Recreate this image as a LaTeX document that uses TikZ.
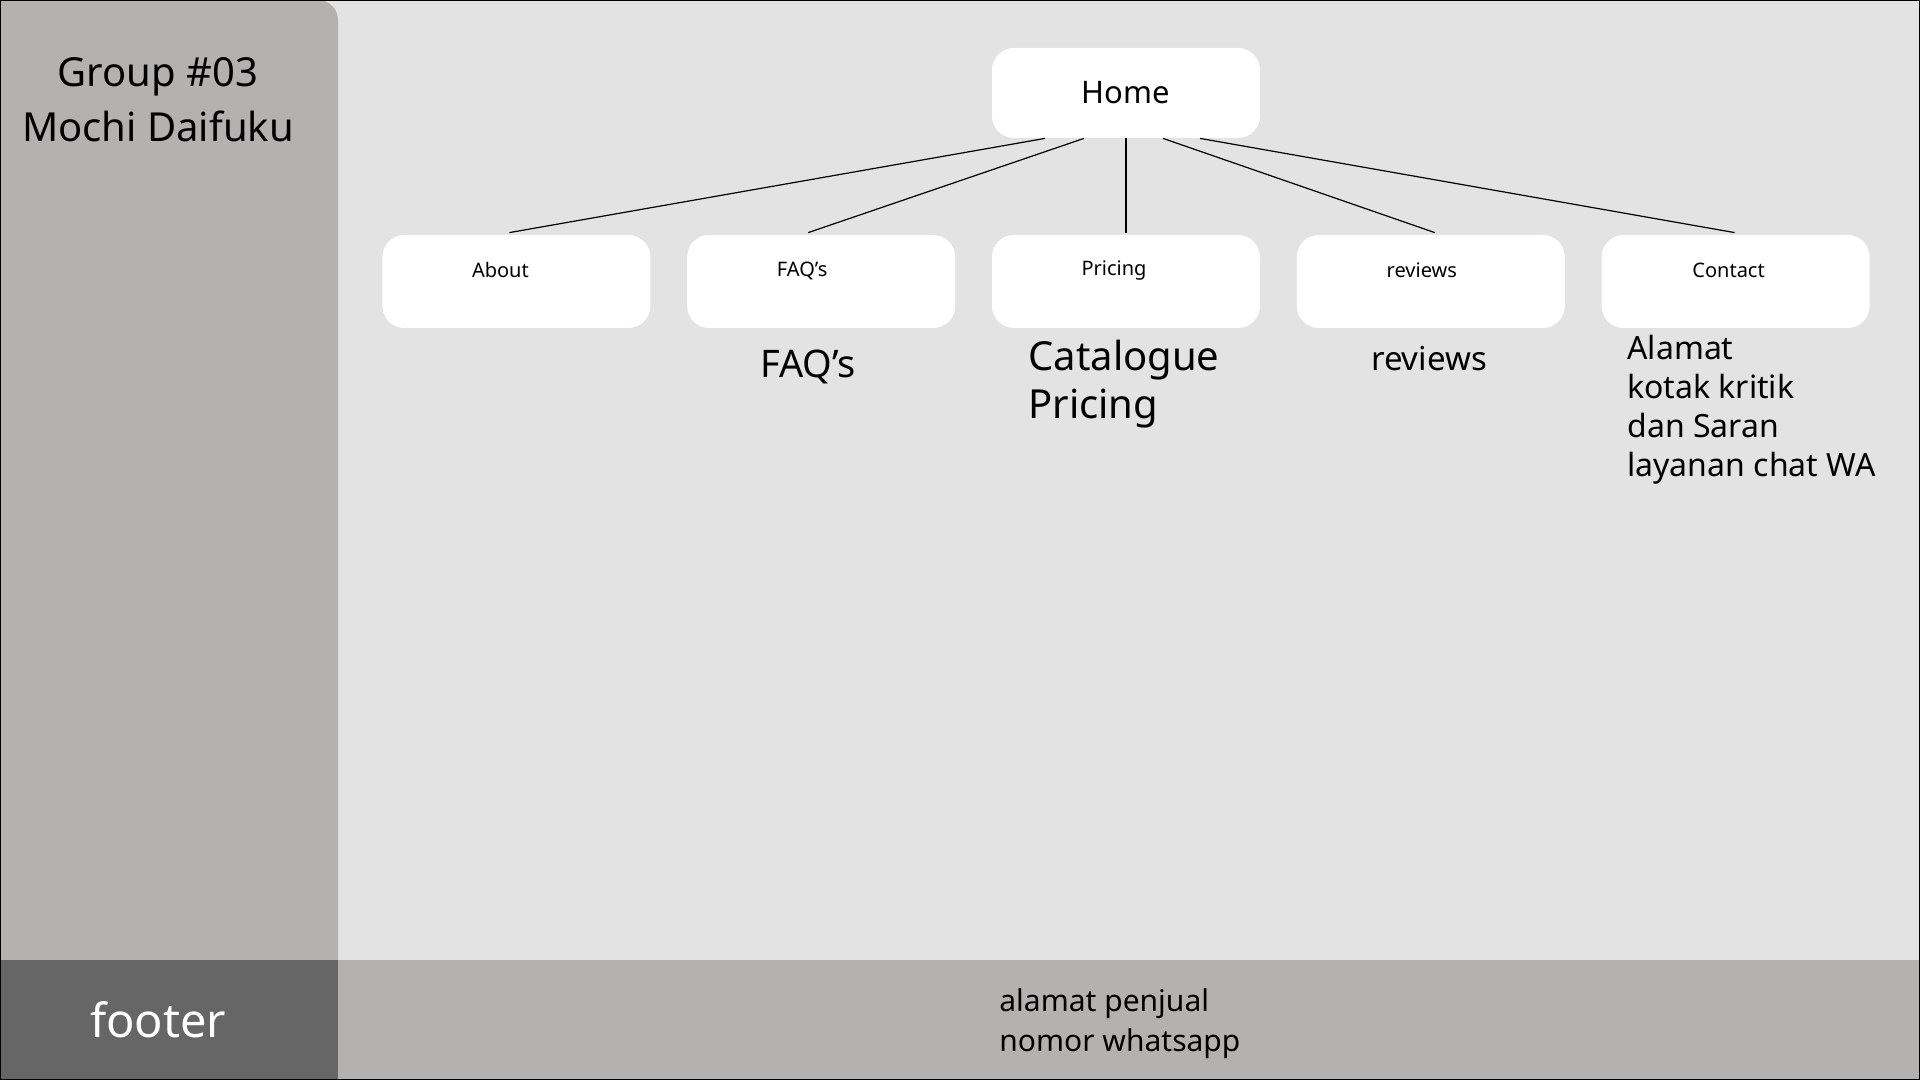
\documentclass[tikz,border=0pt]{standalone}
\usepackage{fontspec}
\setmainfont{Noto Sans}
\usetikzlibrary{calc,positioning}
\definecolor{sidegray}{HTML}{B3B2B0}
\definecolor{pagegray}{HTML}{E3E3E3}
\definecolor{footdark}{HTML}{666666}
\tikzset{link/.style={draw=black, line width=0.6pt},
  tab/.style={fill=white, rounded corners=11pt, minimum width=134pt, minimum height=46.5pt, inner sep=0pt},
  tablabel/.style={font=\fontsize{10}{12}\selectfont, inner sep=0pt},
  note/.style={inner sep=0pt, align=left}}

\begin{document}
\begin{tikzpicture}[x=0.5pt, y=-0.5pt, node distance=18pt]
  \useasboundingbox (0,0) rectangle (1920,1080);
  % page, sidebar and footer bands
  \fill[pagegray] (0,0) rectangle (1920,1080);
  \fill[sidegray] (0,960) -- (0,0) -- (318,0) arc[start angle=90, end angle=0, radius=10pt] -- (338,960) -- cycle;
  \fill[sidegray] (338,960) rectangle (1920,1080);
  \fill[footdark] (0,960) rectangle (338,1080);
  \node[align=center, font=\fontsize{20}{27.5}\selectfont] (group) at (158,100) {Group \#03\\Mochi Daifuku};
  \node[text=white, font=\fontsize{23.5}{28}\selectfont] (footer) at (158,1020) {footer};
  % site map
  \node[tab, minimum height=45pt, font=\fontsize{15.5}{18}\selectfont] (home) at (1126,93) {Home};
  \node[tab] (pricing) at (1126,281.5) {};
  \node[tab, left=of pricing] (faq) {};
  \node[tab, left=of faq] (about) {};
  \node[tab, right=of pricing] (reviews) {};
  \node[tab, right=of reviews] (contact) {};
  \foreach \n/\t/\dx in {about/About/-16,faq/FAQ’s/-19,pricing/Pricing/-12,reviews/reviews/-9,contact/Contact/-7}{
    % page name sits high in the tab
    \node[tablabel] (\n-label) at ($(\n.center)+(\dx,-11)$) {\t};}
  \foreach \n/\a/\b in {about/-81/-7,faq/-42/-13,pricing/0/0,reviews/37/4,contact/74/-1}
    \draw[link] ($(home.south)+(\a,0)$) -- ($(\n.north)+(\b,-2)$);
  % contents of each page
  \node[note, font=\fontsize{19}{22}\selectfont] (faq-note) at (808,367) {FAQ’s};
  \node[note, anchor=west, font=\fontsize{20}{24}\selectfont] (pricing-note) at (1028,384) {Catalogue\\Pricing};
  \node[note, font=\fontsize{16.5}{20}\selectfont] (reviews-note) at (1429,359) {reviews};
  \node[note, anchor=west, font=\fontsize{16}{19.5}\selectfont] (contact-note) at (1627,410) {Alamat\\kotak kritik\\dan Saran\\layanan chat WA};
  \node[note, anchor=west, font=\fontsize{15}{20}\selectfont] (footer-note) at (999,1024) {alamat penjual\\nomor whatsapp};
  \draw[line width=1pt] (0,0) rectangle (1920,1080);
\end{tikzpicture}
\end{document}
